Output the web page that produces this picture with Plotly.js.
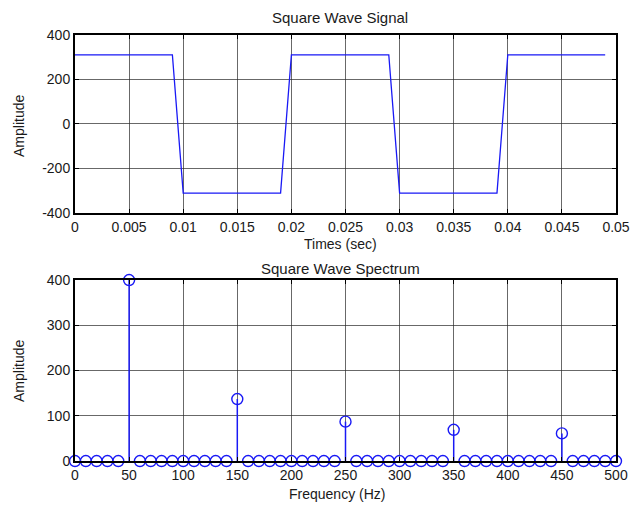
<!DOCTYPE html>
<html>
<head>
<meta charset="utf-8">
<script src="https://cdn.plot.ly/plotly-3.0.1.min.js"></script>
<style>html,body{margin:0;padding:0;background:#fff;}#plot{width:633px;height:506px;}</style>
</head>
<body>
<div id="plot"></div>
<script>
// Time-domain samples (sec) and signal amplitude
const timeSec = [0,0.001,0.002,0.003,0.004,0.005,0.006,0.007,0.008,0.009,
  0.010,0.011,0.012,0.013,0.014,0.015,0.016,0.017,0.018,0.019,
  0.020,0.021,0.022,0.023,0.024,0.025,0.026,0.027,0.028,0.029,
  0.030,0.031,0.032,0.033,0.034,0.035,0.036,0.037,0.038,0.039,
  0.040,0.041,0.042,0.043,0.044,0.045,0.046,0.047,0.048,0.049];
const signalAmp = [311,311,311,311,311,311,311,311,311,311,
  -311,-311,-311,-311,-311,-311,-311,-311,-311,-311,
  311,311,311,311,311,311,311,311,311,311,
  -311,-311,-311,-311,-311,-311,-311,-311,-311,-311,
  311,311,311,311,311,311,311,311,311,311];

// Spectrum
const freqHz = [0,10,20,30,40,50,60,70,80,90,100,110,120,130,140,150,160,170,180,190,
  200,210,220,230,240,250,260,270,280,290,300,310,320,330,340,350,360,370,380,390,
  400,410,420,430,440,450,460,470,480,490,500];
const specAmp = [0,0,0,0,0,400,0,0,0,0,0,0,0,0,0,137,0,0,0,0,
  0,0,0,0,0,87,0,0,0,0,0,0,0,0,0,69,0,0,0,0,
  0,0,0,0,0,61,0,0,0,0,0];

const topYTicks = [-400,-200,0,200,400];
const topYLabels = ['-400','-200','0','200','400'];
const topXTicks = [0,0.005,0.01,0.015,0.02,0.025,0.03,0.035,0.04,0.045,0.05];
const topXLabels = ['0','0.005','0.01','0.015','0.02','0.025','0.03','0.035','0.04','0.045','0.05'];
const botYTicks = [0,100,200,300,400];
const botXTicks = [0,50,100,150,200,250,300,350,400,450,500];

const blue = 'rgb(25,25,245)';
const tickFont = {family:'Liberation Sans, Arial, sans-serif', size:14, color:'#1a1a1a'};
const labFont = {family:'Liberation Sans, Arial, sans-serif', size:14, color:'#1a1a1a'};
const titleFont = {family:'Liberation Sans, Arial, sans-serif', size:15, color:'#1a1a1a'};

// stems built from spectrum arrays
const stemX = [], stemY = [];
freqHz.forEach((f,i)=>{ stemX.push(f,f,null); stemY.push(0,specAmp[i],null); });

const traces = [
  {x:timeSec, y:signalAmp, type:'scatter', mode:'lines', line:{color:blue, width:1.3}, xaxis:'x', yaxis:'y', hoverinfo:'skip'},
  {x:stemX, y:stemY, type:'scatter', mode:'lines', line:{color:blue, width:1.5}, xaxis:'x2', yaxis:'y2', hoverinfo:'skip', cliponaxis:false},
  {x:freqHz, y:specAmp, type:'scatter', mode:'markers', marker:{symbol:'circle-open', size:11, color:blue, line:{width:1.4, color:blue}}, xaxis:'x2', yaxis:'y2', cliponaxis:false}
];

const axisCommon = {
  showline:true, linecolor:'#000', linewidth:2, mirror:'ticks',
  ticks:'inside', ticklen:4, tickcolor:'#000', tickwidth:1,
  showgrid:true, gridcolor:'rgba(40,40,40,0.7)', gridwidth:1,
  zeroline:false, tickfont:tickFont, automargin:false
};

const layout = {
  width:633, height:506,
  margin:{l:75, r:17, t:0, b:0},
  paper_bgcolor:'#fff', plot_bgcolor:'#fff',
  showlegend:false,
  font:tickFont,
  xaxis:Object.assign({}, axisCommon, {domain:[0,1], range:[0,0.05], tickvals:topXTicks, ticktext:topXLabels, anchor:'y'}),
  yaxis:Object.assign({}, axisCommon, {domain:[0.5791,0.9308], range:[-400,400], tickvals:topYTicks, ticktext:topYLabels, anchor:'x'}),
  xaxis2:Object.assign({}, axisCommon, {domain:[0,1], range:[0,500], tickvals:botXTicks, anchor:'y2'}),
  yaxis2:Object.assign({}, axisCommon, {domain:[0.0889,0.4466], range:[0,400], tickvals:botYTicks, anchor:'x2'}),
  annotations:[
    {text:'Square Wave Signal', xref:'paper', yref:'paper', x:(340-75)/541, y:1-17/506, xanchor:'center', yanchor:'middle', showarrow:false, font:titleFont},
    {text:'Times (sec)', xref:'paper', yref:'paper', x:(340-75)/541, y:1-244/506, xanchor:'center', yanchor:'middle', showarrow:false, font:labFont},
    {text:'Amplitude', xref:'paper', yref:'paper', x:-56/541, y:1-126/506, xanchor:'center', yanchor:'middle', textangle:-90, showarrow:false, font:labFont},
    {text:'Square Wave Spectrum', xref:'paper', yref:'paper', x:(340-75)/541, y:1-268/506, xanchor:'center', yanchor:'middle', showarrow:false, font:titleFont},
    {text:'Frequency (Hz)', xref:'paper', yref:'paper', x:(337-75)/541, y:1-494/506, xanchor:'center', yanchor:'middle', showarrow:false, font:labFont},
    {text:'Amplitude', xref:'paper', yref:'paper', x:-56/541, y:1-371/506, xanchor:'center', yanchor:'middle', textangle:-90, showarrow:false, font:labFont}
  ]
};

Plotly.newPlot('plot', traces, layout, {displayModeBar:false, staticPlot:true});
</script>
</body>
</html>
